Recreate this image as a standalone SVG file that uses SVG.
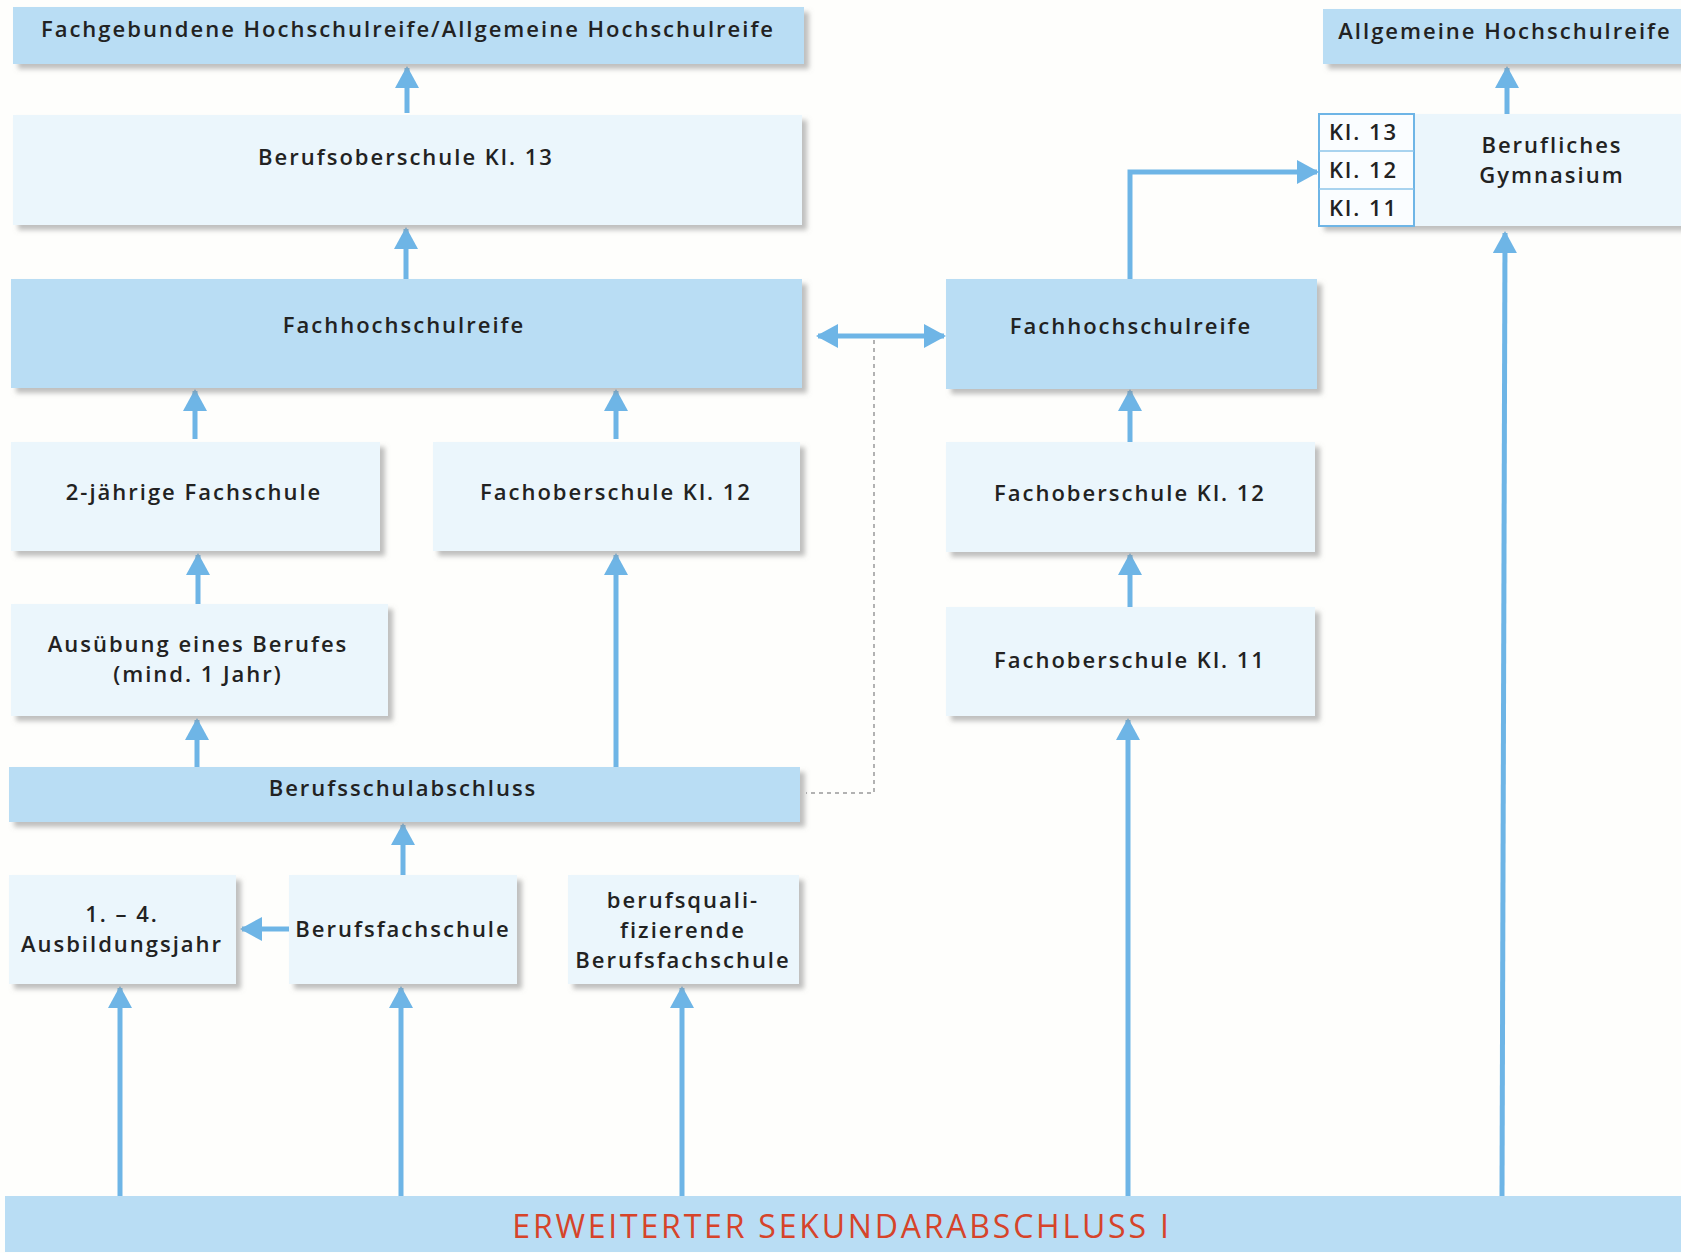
<svg xmlns="http://www.w3.org/2000/svg" width="1681" height="1253" viewBox="0 0 1681 1253">
<style>
.dark{fill:#b9ddf4}
.light{fill:#ebf6fc}
.t{font-family:"Open Sans","Noto Sans",sans-serif;font-weight:600;font-size:22px;fill:#222;text-anchor:middle;letter-spacing:2px}
.arr{stroke:#6eb5e6;stroke-width:5;fill:none;marker-end:url(#ah)}
</style>
<defs>
<filter id="sh" x="-5%" y="-10%" width="115%" height="130%">
<feDropShadow dx="5" dy="5" stdDeviation="2.5" flood-color="#8a8a8a" flood-opacity="0.55"/>
</filter>
<marker id="ah" markerUnits="userSpaceOnUse" markerWidth="26" markerHeight="26" refX="20" refY="12" orient="auto-start-reverse">
<path d="M0,0 L22,12 L0,24 z" fill="#6eb5e6"/>
</marker>
</defs>
<rect width="1681" height="1253" fill="#fefefc"/>

<g id="connectors">
<line class="arr" x1="407" y1="113" x2="407" y2="68"/>
<line class="arr" x1="406" y1="279" x2="406" y2="229"/>
<line class="arr" x1="195" y1="439" x2="195" y2="391"/>
<line class="arr" x1="616" y1="439" x2="616" y2="391"/>
<line class="arr" x1="198" y1="604" x2="198" y2="555"/>
<line class="arr" x1="197" y1="767" x2="197" y2="720"/>
<line class="arr" x1="616" y1="767" x2="616" y2="555"/>
<line class="arr" x1="403" y1="875" x2="403" y2="825"/>
<line class="arr" x1="290" y1="929" x2="242" y2="929"/>
<line class="arr" x1="120" y1="1196" x2="120" y2="988"/>
<line class="arr" x1="401" y1="1196" x2="401" y2="988"/>
<line class="arr" x1="682" y1="1196" x2="682" y2="988"/>
<line class="arr" x1="1128" y1="1196" x2="1128" y2="720"/>
<line class="arr" x1="1130" y1="607" x2="1130" y2="555"/>
<line class="arr" x1="1130" y1="442" x2="1130" y2="391"/>
<line class="arr" x1="1502" y1="1196" x2="1505" y2="233"/>
<line class="arr" x1="1507" y1="114" x2="1507" y2="68"/>
<path class="arr" d="M1130,279 L1130,172 L1317,172"/>
<line class="arr" x1="818" y1="336" x2="944" y2="336" style="marker-start:url(#ah)"/>
<path d="M874,340 L874,793 L806,793" fill="none" stroke="#999" stroke-width="1.5" stroke-dasharray="4,4"/>
</g>

<g id="n-fachgebunden">
<rect class="dark" x="13" y="7" width="791" height="57" filter="url(#sh)"/>
<text class="t" x="408" y="37">Fachgebundene Hochschulreife/Allgemeine Hochschulreife</text>
</g>
<g id="n-bos13">
<rect class="light" x="13" y="115" width="789" height="110" filter="url(#sh)"/>
<text class="t" x="406" y="165">Berufsoberschule Kl. 13</text>
</g>
<g id="n-fhr-left">
<rect class="dark" x="11" y="279" width="791" height="109" filter="url(#sh)"/>
<text class="t" x="404" y="333">Fachhochschulreife</text>
</g>
<g id="n-fachschule">
<rect class="light" x="11" y="442" width="369" height="109" filter="url(#sh)"/>
<text class="t" x="194" y="500">2-jährige Fachschule</text>
</g>
<g id="n-fos12-left">
<rect class="light" x="433" y="442" width="367" height="109" filter="url(#sh)"/>
<text class="t" x="616" y="500">Fachoberschule Kl. 12</text>
</g>
<g id="n-ausuebung">
<rect class="light" x="11" y="604" width="377" height="112" filter="url(#sh)"/>
<text class="t" x="198" y="652">Ausübung eines Berufes</text>
<text class="t" x="198" y="682">(mind. 1 Jahr)</text>
</g>
<g id="n-bsa">
<rect class="dark" x="9" y="767" width="791" height="55" filter="url(#sh)"/>
<text class="t" x="403" y="796">Berufsschulabschluss</text>
</g>
<g id="n-ausbildung">
<rect class="light" x="9" y="875" width="227" height="109" filter="url(#sh)"/>
<text class="t" x="122" y="922">1. – 4.</text>
<text class="t" x="122" y="952">Ausbildungsjahr</text>
</g>
<g id="n-bfs">
<rect class="light" x="289" y="875" width="228" height="109" filter="url(#sh)"/>
<text class="t" x="403" y="937">Berufsfachschule</text>
</g>
<g id="n-bqbfs">
<rect class="light" x="568" y="875" width="231" height="109" filter="url(#sh)"/>
<text class="t" x="683" y="908">berufsquali-</text>
<text class="t" x="683" y="938">fizierende</text>
<text class="t" x="683" y="968">Berufsfachschule</text>
</g>
<g id="n-fhr-right">
<rect class="dark" x="946" y="279" width="371" height="110" filter="url(#sh)"/>
<text class="t" x="1131" y="334">Fachhochschulreife</text>
</g>
<g id="n-fos12-right">
<rect class="light" x="946" y="442" width="369" height="110" filter="url(#sh)"/>
<text class="t" x="1130" y="501">Fachoberschule Kl. 12</text>
</g>
<g id="n-fos11">
<rect class="light" x="946" y="607" width="369" height="109" filter="url(#sh)"/>
<text class="t" x="1130" y="668">Fachoberschule Kl. 11</text>
</g>
<g id="n-ahr">
<rect class="dark" x="1323" y="9" width="370" height="55" filter="url(#sh)"/>
<text class="t" x="1505" y="39">Allgemeine Hochschulreife</text>
</g>
<g id="n-bg">
<rect class="light" x="1319" y="114" width="370" height="112" filter="url(#sh)"/>
<text class="t" x="1552" y="153">Berufliches</text>
<text class="t" x="1552" y="183">Gymnasium</text>
<rect x="1319" y="114" width="95" height="112" fill="#fafdff" stroke="#6eb5e6" stroke-width="2"/>
<line x1="1319" y1="151" x2="1414" y2="151" stroke="#8cc4ea" stroke-width="1.5"/>
<line x1="1319" y1="189" x2="1414" y2="189" stroke="#8cc4ea" stroke-width="1.5"/>
<text class="t" x="1329" y="140" style="text-anchor:start">Kl. 13</text>
<text class="t" x="1329" y="178" style="text-anchor:start">Kl. 12</text>
<text class="t" x="1329" y="216" style="text-anchor:start">Kl. 11</text>
</g>
<g id="n-esa">
<rect class="dark" x="5" y="1196" width="1690" height="56"/>
<text class="t" x="842" y="1238" style="fill:#d6442a;font-size:32px;font-weight:500;letter-spacing:2.8px">ERWEITERTER SEKUNDARABSCHLUSS I</text>
</g>
</svg>
